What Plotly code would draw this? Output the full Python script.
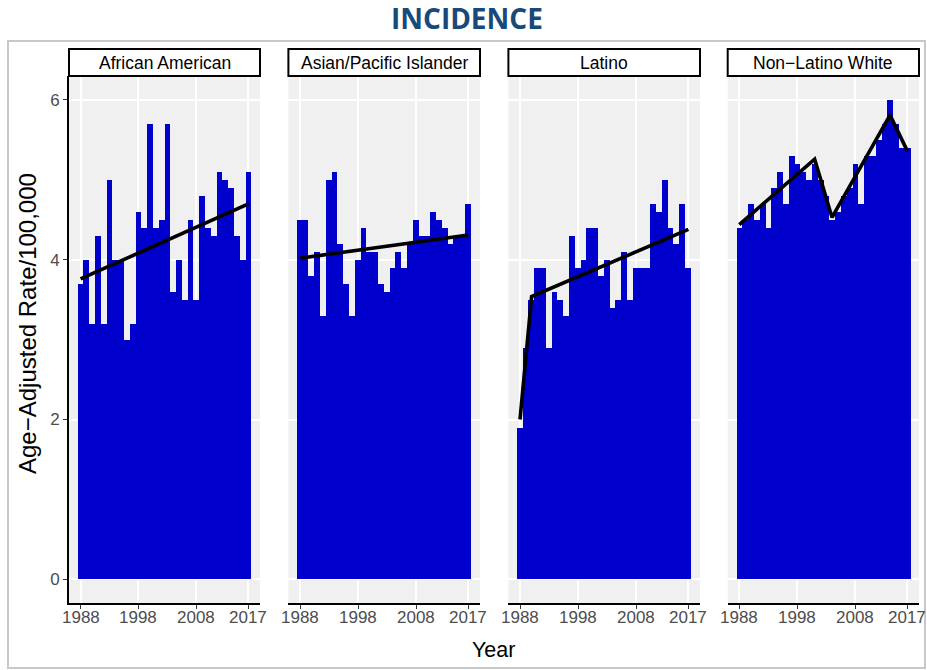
import plotly.graph_objects as go

# ---------------- data ----------------
years = list(range(1988, 2018))
groups = ["African American", "Asian/Pacific Islander", "Latino", "Non\u2212Latino White"]

aa_rates = [3.7, 4.0, 3.2, 4.3, 3.2, 5.0, 4.0, 4.0, 3.0, 3.2,
            4.6, 4.4, 5.7, 4.4, 4.5, 5.7, 3.6, 4.0, 3.5, 4.5,
            3.5, 4.8, 4.4, 4.3, 5.1, 5.0, 4.9, 4.3, 4.0, 5.1]
api_rates = [4.5, 4.5, 3.8, 4.1, 3.3, 5.0, 5.1, 4.2, 3.7, 3.3,
             4.0, 4.4, 4.1, 4.1, 3.7, 3.6, 3.9, 4.1, 3.9, 4.2,
             4.5, 4.3, 4.3, 4.6, 4.5, 4.4, 4.2, 4.3, 4.3, 4.7]
lat_rates = [1.9, 2.9, 3.5, 3.9, 3.9, 2.9, 3.6, 3.5, 3.3, 4.3,
             3.9, 4.0, 4.4, 4.4, 3.8, 4.0, 3.4, 3.5, 4.1, 3.5,
             3.9, 3.9, 3.9, 4.7, 4.6, 5.0, 4.4, 4.2, 4.7, 3.9]
nlw_rates = [4.4, 4.5, 4.7, 4.5, 4.7, 4.4, 4.9, 5.1, 4.7, 5.3,
             5.2, 5.1, 5.0, 5.2, 5.0, 4.8, 4.5, 4.6, 4.8, 4.9,
             5.2, 4.7, 5.3, 5.3, 5.5, 5.7, 6.0, 5.7, 5.4, 5.4]

trend_years_aa = [1988, 2017]
trend_aa = [3.76, 4.70]
trend_years_api = [1988, 2017]
trend_api = [4.02, 4.31]
trend_years_lat = [1988, 1990, 2017]
trend_lat = [2.0, 3.54, 4.38]
trend_years_nlw = [1988, 2001, 2004, 2014, 2017]
trend_nlw = [4.44, 5.26, 4.53, 5.81, 5.36]

x_tick_vals = [1988, 1998, 2008, 2017]
x_tick_text = ["1988", "1998", "2008", "2017"]
y_tick_vals = [0, 2, 4, 6]
y_tick_text = ["0", "2", "4", "6"]

title_text = "INCIDENCE"
x_title = "Year"
y_title = "Age\u2212Adjusted Rate/100,000"

# ---------------- layout helpers ----------------
W, H = 927, 670
def px(x):
    return x / W
def py(y):
    return 1 - y / H

panel_x = [(69, 260), (288.4, 480), (508.4, 700), (727.7, 919)]
panel_top, panel_bot = 76, 603.3
strip_top = 49
XR = (1986, 2019)

BAR = "#0000CD"
FONT = "Liberation Sans, Arial, sans-serif"

series = [aa_rates, api_rates, lat_rates, nlw_rates]
trends = [(trend_years_aa, trend_aa), (trend_years_api, trend_api),
          (trend_years_lat, trend_lat), (trend_years_nlw, trend_nlw)]

fig = go.Figure()
layout = dict(
    width=W, height=H,
    margin=dict(l=0, r=0, t=0, b=0),
    paper_bgcolor="white", plot_bgcolor="#F0F0F0",
    showlegend=False, bargap=0,
    font=dict(family=FONT, color="#4D4D4D"),
)
shapes = []
annotations = []

for i in range(4):
    xa = "x" if i == 0 else f"x{i+1}"
    ya = "y" if i == 0 else f"y{i+1}"
    fig.add_trace(go.Bar(x=years, y=series[i], width=1, marker_color=BAR,
                         marker_line_width=0, xaxis=xa, yaxis=ya,
                         hoverinfo="x+y"))
    ty, tv = trends[i]
    fig.add_trace(go.Scatter(x=ty, y=tv, mode="lines", xaxis=xa, yaxis=ya,
                             line=dict(color="black", width=3.6)))
    xkey = "xaxis" if i == 0 else f"xaxis{i+1}"
    ykey = "yaxis" if i == 0 else f"yaxis{i+1}"
    x0, x1 = panel_x[i]
    layout[xkey] = dict(
        domain=[px(x0), px(x1)], anchor=ya, range=list(XR),
        tickvals=x_tick_vals, showticklabels=False,
        ticks="outside", ticklen=4, tickcolor="#333333", tickwidth=1,
        showgrid=True, gridcolor="white", gridwidth=1.5,
        showline=True, linecolor="black", linewidth=2,
        zeroline=False, fixedrange=True,
    )
    layout[ykey] = dict(
        domain=[py(panel_bot), py(panel_top)], anchor=xa, range=[-0.3, 6.3],
        tickvals=y_tick_vals, ticktext=y_tick_text,
        showticklabels=(i == 0),
        ticks="outside" if i == 0 else "", ticklen=4, tickcolor="#333333", tickwidth=1,
        tickfont=dict(size=17, color="#4D4D4D", family=FONT),
        showgrid=True, gridcolor="white", gridwidth=1.5,
        showline=(i == 0), linecolor="black", linewidth=2,
        zeroline=False, fixedrange=True,
    )
    # x tick labels placed like ggplot
    for tv_, tt in zip(x_tick_vals, x_tick_text):
        annotations.append(dict(text=tt, xref=xa, yref="paper",
                                x=tv_, y=py(617), showarrow=False,
                                xanchor="center", yanchor="middle",
                                font=dict(size=17, color="#4D4D4D", family=FONT)))
    # strip box
    shapes.append(dict(type="rect", xref="paper", yref="paper",
                       x0=px(x0), x1=px(x1), y0=py(panel_top), y1=py(strip_top),
                       fillcolor="white", line=dict(color="black", width=2)))
    annotations.append(dict(text=groups[i], xref="paper", yref="paper",
                            x=px((x0 + x1) / 2), y=py((strip_top + panel_top) / 2 + 0.5),
                            showarrow=False, xanchor="center", yanchor="middle",
                            font=dict(size=17.5, color="black", family=FONT)))

# outer border
shapes.append(dict(type="rect", xref="paper", yref="paper",
                   x0=px(8), x1=px(925), y0=py(668), y1=py(41),
                   fillcolor="rgba(0,0,0,0)", line=dict(color="#C8C8C8", width=2),
                   layer="below"))

annotations.append(dict(text=f"<b>{title_text}</b>", xref="paper", yref="paper",
                        x=px(467), y=py(18), showarrow=False,
                        xanchor="center", yanchor="middle",
                        font=dict(size=28, color="#17497A", family="Open Sans, sans-serif")))
annotations.append(dict(text=x_title, xref="paper", yref="paper",
                        x=px(494), y=py(650), showarrow=False,
                        xanchor="center", yanchor="middle",
                        font=dict(size=21.5, color="black", family=FONT)))
annotations.append(dict(text=y_title, xref="paper", yref="paper",
                        x=px(27), y=py(324), showarrow=False, textangle=-90,
                        xanchor="center", yanchor="middle",
                        font=dict(size=24, color="black", family=FONT)))

layout["shapes"] = shapes
layout["annotations"] = annotations
fig.update_layout(**layout)
fig.write_html("out.html", config={"displayModeBar": False},
               post_script="document.body.style.margin='0';document.body.style.overflow='hidden';")
